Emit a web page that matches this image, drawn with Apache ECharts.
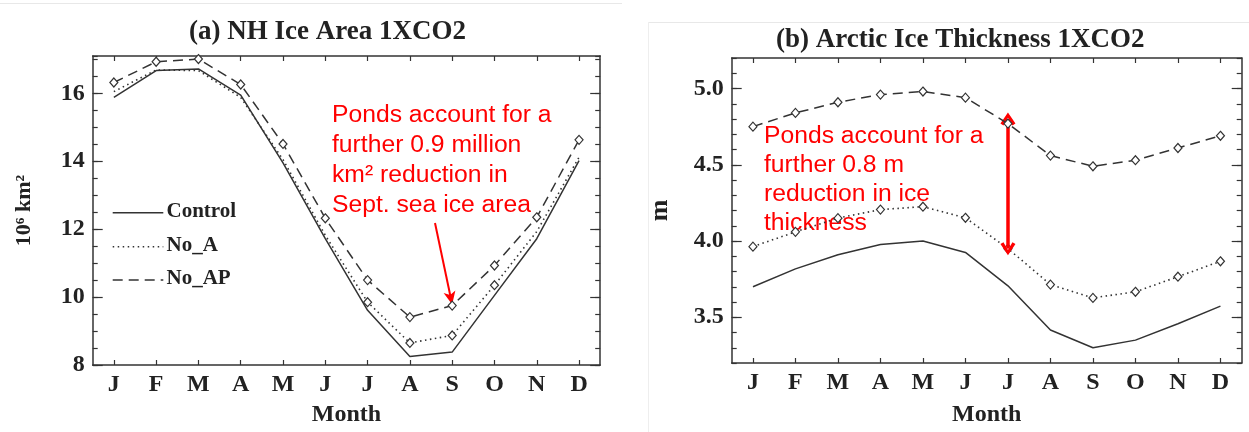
<!DOCTYPE html>
<html><head><meta charset="utf-8">
<script src="https://cdn.jsdelivr.net/npm/echarts@6/dist/echarts.min.js"></script>
<style>html,body{margin:0;padding:0;background:#fff}#c{width:1249px;height:432px}</style>
</head><body><div id="c"></div>
<script>
// ---------- data ----------
const months = ['J','F','M','A','M','J','J','A','S','O','N','D'];

// (a) NH ice area, 10^6 km^2
const areaControl = [15.88, 16.67, 16.72, 15.95, 13.95, 11.72, 9.61, 8.25, 8.38, 10.05, 11.72, 14.02];
const areaNoA     = [16.05, 16.69, 16.67, 15.88, 14.05, 11.82, 9.85, 8.65, 8.87, 10.35, 11.93, 14.12];
const areaNoAP    = [16.32, 16.93, 17.01, 16.26, 14.51, 12.32, 10.50, 9.41, 9.75, 10.93, 12.35, 14.63];
const areaTicks   = [8, 10, 12, 14, 16];

// (b) Arctic ice thickness, m
const thickControl = [3.70, 3.817, 3.91, 3.977, 4.00, 3.925, 3.706, 3.416, 3.30, 3.35, 3.457, 3.573];
const thickNoA     = [3.963, 4.06, 4.15, 4.206, 4.225, 4.152, 3.95, 3.714, 3.627, 3.667, 3.766, 3.867];
const thickNoAP    = [4.75, 4.84, 4.91, 4.96, 4.98, 4.94, 4.77, 4.56, 4.49, 4.53, 4.61, 4.69];
const thickTicks   = [3.5, 4.0, 4.5, 5.0];

const seriesNames = ['Control', 'No_A', 'No_AP'];
// ---------- styles ----------
const INK = '#333';
const SERIF = '"Liberation Serif", "DejaVu Serif", serif';
const SANS = '"Liberation Sans", Arial, sans-serif';
const axisLine = {show: true, lineStyle: {color: INK, width: 1.5}};
const tickStyle = {color: INK, width: 1.2};
const labelFont = {fontFamily: SERIF, fontWeight: 'bold', fontSize: 24, color: '#222'};

function xAxes(grid, nameGap) {
  return [
    {gridIndex: grid, type: 'category', data: months, boundaryGap: true, position: 'bottom',
     axisLine, axisTick: {show: true, inside: true, alignWithLabel: true, length: 5, lineStyle: tickStyle},
     axisLabel: Object.assign({margin: 8, interval: 0}, labelFont), splitLine: {show: false},
     name: 'Month', nameLocation: 'middle', nameGap: nameGap,
     nameTextStyle: {fontFamily: SERIF, fontWeight: 'bold', fontSize: 24, color: '#222'}},
    {gridIndex: grid, type: 'category', data: months, boundaryGap: true, position: 'top',
     axisLine, axisTick: {show: true, inside: true, alignWithLabel: true, length: 5, lineStyle: tickStyle},
     axisLabel: {show: false}, splitLine: {show: false}}
  ];
}
function yAxes(grid, min, max, minor, ticks, digits, name, nameGap, nameSize) {
  const common = {gridIndex: grid, type: 'value', min, max, splitLine: {show: false}};
  return [
    Object.assign({}, common, {position: 'left', axisLine,
      axisTick: {show: true, inside: true, length: 10, customValues: ticks, lineStyle: tickStyle},
      axisLabel: Object.assign({margin: 8, customValues: ticks, formatter: v => v.toFixed(digits)}, labelFont),
      name, nameLocation: 'middle', nameGap, nameRotate: 90,
      nameTextStyle: {fontFamily: SERIF, fontWeight: 'bold', fontSize: nameSize, color: '#222'}}),
    Object.assign({}, common, {position: 'left', interval: minor, axisLine: {show: false},
      axisTick: {show: true, inside: true, length: 5, lineStyle: tickStyle}, axisLabel: {show: false}}),
    Object.assign({}, common, {position: 'right', axisLine,
      axisTick: {show: true, inside: true, length: 10, customValues: ticks, lineStyle: tickStyle},
      axisLabel: {show: false}}),
    Object.assign({}, common, {position: 'right', interval: minor, axisLine: {show: false},
      axisTick: {show: true, inside: true, length: 5, lineStyle: tickStyle}, axisLabel: {show: false}})
  ];
}
const markerStyle = {color: '#fff', borderColor: INK, borderWidth: 1.2};
function makeSeries(grid, ctrl, noA, noAP, noAMarked) {
  const xi = grid * 2, yi = grid * 4;
  return [
    {type: 'line', name: seriesNames[0], xAxisIndex: xi, yAxisIndex: yi, data: ctrl, symbol: 'none',
     lineStyle: {color: INK, width: 1.5}, z: 3},
    {type: 'line', name: seriesNames[1], xAxisIndex: xi, yAxisIndex: yi,
     data: noA.map((v, i) => ({value: v, symbol: noAMarked(i) ? 'diamond' : 'none'})),
     symbol: 'diamond', symbolSize: [8, 9], showAllSymbol: true, itemStyle: markerStyle,
     lineStyle: {color: INK, width: 1.6, type: [1.5, 3.5]}, z: 4},
    {type: 'line', name: seriesNames[2], xAxisIndex: xi, yAxisIndex: yi, data: noAP,
     symbol: 'diamond', symbolSize: [8, 9], showAllSymbol: true, itemStyle: markerStyle,
     lineStyle: {color: INK, width: 1.5, type: [10, 6]}, z: 5}
  ];
}

const chevron = 'path://M5,0 L10,9 L8,10.6 L5,4.2 L2,10.6 L0,9 Z';

const series = [
  ...makeSeries(0, areaControl, areaNoA, areaNoAP, i => i >= 6 && i <= 9),
  ...makeSeries(1, thickControl, thickNoA, thickNoAP, () => true)
];
// left annotation arrow (points to September No_AP)
series[2].markLine = {silent: true, animation: false, symbol: ['none', 'arrow'], symbolSize: [9, 13],
  label: {show: false}, lineStyle: {color: '#ff0000', width: 2, type: 'solid'},
  data: [[{x: 435, y: 223}, {coord: [8, areaNoAP[8] + 0.03]}]]};
// right annotation double arrow (July, between No_AP and No_A)
series[5].markLine = {silent: true, animation: false, symbol: [chevron, chevron], symbolSize: [15, 13],
  label: {show: false}, lineStyle: {color: '#ff0000', width: 3.5, type: 'solid'},
  data: [[{coord: [6, thickNoAP[6] + 0.03]}, {coord: [6, thickNoA[6]]}]]};

const legendY = [212.7, 246.7, 280];
const legendDash = [null, [1.5, 3.5], [10, 6]];
const graphic = [
  {type: 'line', shape: {x1: 0, y1: 3.5, x2: 622, y2: 3.5}, style: {stroke: '#e8e8e8', lineWidth: 1}, silent: true},
  {type: 'line', shape: {x1: 648, y1: 22.5, x2: 1249, y2: 22.5}, style: {stroke: '#e8e8e8', lineWidth: 1}, silent: true},
  {type: 'line', shape: {x1: 648.5, y1: 22, x2: 648.5, y2: 432}, style: {stroke: '#eeeeee', lineWidth: 1}, silent: true},
  {type: 'text', left: 332, top: 100, silent: true,
   style: {text: 'Ponds account for a\nfurther 0.9 million\nkm\u00B2 reduction in\nSept. sea ice area',
           font: '24.7px ' + SANS, fill: '#ff0000', lineHeight: 30}},
  {type: 'text', left: 764, top: 122, silent: true,
   style: {text: 'Ponds account for a\nfurther 0.8 m\nreduction in ice\nthickness',
           font: '24.7px ' + SANS, fill: '#ff0000', lineHeight: 29}}
];
seriesNames.forEach((n, i) => {
  graphic.push({type: 'line', silent: true, shape: {x1: 112.7, y1: legendY[i], x2: 163.3, y2: legendY[i]},
    style: {stroke: INK, lineWidth: 1.5, lineDash: legendDash[i]}});
  graphic.push({type: 'text', silent: true, left: 166.5, top: legendY[i] - 11.5,
    style: {text: n, font: 'bold 21px ' + SERIF, fill: '#222'}});
});

const option = {
  animation: false,
  backgroundColor: '#fff',
  title: [
    {text: '(a) NH Ice Area 1XCO2', left: 189, top: 19, padding: 0,
     textStyle: {fontFamily: SERIF, fontWeight: 'bold', fontSize: 27, color: '#222'}},
    {text: '(b) Arctic Ice Thickness 1XCO2', left: 776, top: 27, padding: 0,
     textStyle: {fontFamily: SERIF, fontWeight: 'bold', fontSize: 27, color: '#222'}}
  ],
  grid: [
    {left: 92.7, top: 56, width: 507.5, height: 309, containLabel: false},
    {left: 731.7, top: 58, width: 510, height: 311, containLabel: false}
  ],
  xAxis: [...xAxes(0, 38), ...xAxes(1, 40)],
  yAxis: [
    ...yAxes(0, 8, 17.1, 0.5, areaTicks, 0, '10\u2076 km\u00B2', 57, 22),
    ...yAxes(1, 3.2, 5.2, 0.1, thickTicks, 1, 'm', 58, 26)
  ],
  series,
  graphic
};
const chart = echarts.init(document.getElementById('c'), null, {renderer: 'canvas'});
chart.setOption(option);
</script></body></html>
